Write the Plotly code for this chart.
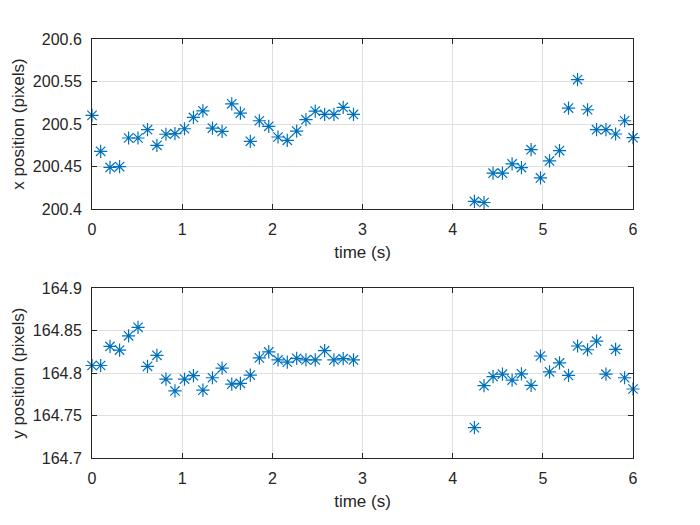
import plotly.graph_objects as go
from plotly.subplots import make_subplots

# time stamps (s)
t1 = [0.0, 0.096, 0.2, 0.306, 0.406, 0.51, 0.616, 0.72, 0.82, 0.92,
      1.026, 1.125, 1.23, 1.336, 1.443, 1.55, 1.646, 1.756, 1.856, 1.96,
      2.063, 2.166, 2.27, 2.373, 2.476, 2.58, 2.683, 2.786, 2.9]
t2 = [4.241, 4.348, 4.448, 4.552, 4.659, 4.763, 4.87, 4.974, 5.074, 5.185,
      5.285, 5.385, 5.496, 5.596, 5.7, 5.807, 5.907, 6.0]

# x position (pixels)
x1 = [200.5102, 200.468, 200.449, 200.450, 200.4836, 200.4836, 200.4934, 200.475, 200.488, 200.4887,
      200.4945, 200.5078, 200.5156, 200.4953, 200.4914, 200.5238, 200.5129, 200.4797, 200.5039, 200.4973,
      200.4848, 200.4809, 200.4918, 200.5051, 200.5152, 200.5113, 200.5113, 200.5195, 200.5113]
x2 = [200.409, 200.4078, 200.4422, 200.4422, 200.4531, 200.4488, 200.4699, 200.4367, 200.4566, 200.4688,
      200.5188, 200.5523, 200.5168, 200.4934, 200.4934, 200.4883, 200.5039, 200.484]

# y position (pixels)
y1 = [164.809, 164.809, 164.8315, 164.8272, 164.844, 164.854, 164.808, 164.821, 164.793, 164.779,
      164.793, 164.797, 164.780, 164.7946, 164.806, 164.787, 164.788, 164.7977, 164.818, 164.825,
      164.8156, 164.813, 164.8175, 164.8156, 164.8156, 164.8265, 164.8156, 164.817, 164.8156]
y2 = [164.7358, 164.7852, 164.796, 164.7988, 164.7918, 164.7992, 164.7856, 164.8202, 164.8016, 164.812,
      164.7973, 164.832, 164.8276, 164.8377, 164.7988, 164.828, 164.7946, 164.7813]

xticks = [0, 1, 2, 3, 4, 5, 6]
xpos_ticks = [200.4, 200.45, 200.5, 200.55, 200.6]
xpos_text = ["200.4", "200.45", "200.5", "200.55", "200.6"]
ypos_ticks = [164.7, 164.75, 164.8, 164.85, 164.9]
ypos_text = ["164.7", "164.75", "164.8", "164.85", "164.9"]

BLUE = "#0072BD"
AX = "#262626"
FONT = "Liberation Sans, Arial, sans-serif"
TICK_SIZE = 16
LABEL_SIZE = 17

fig = make_subplots(rows=2, cols=1, vertical_spacing=0.189)

tx = t1 + [None] + t2
for row, vals in ((1, x1 + [None] + x2), (2, y1 + [None] + y2)):
    fig.add_trace(go.Scatter(
        x=tx, y=vals, mode="markers", cliponaxis=False,
        marker=dict(symbol="asterisk-open", size=11, color=BLUE,
                    line=dict(color=BLUE, width=1.2)),
        showlegend=False), row=row, col=1)

axis_common = dict(showline=True, linecolor=AX, linewidth=1, mirror="ticks",
                   ticks="inside", ticklen=5, tickcolor=AX, tickwidth=1,
                   showgrid=True, gridcolor="#dfdfdf", gridwidth=1,
                   zeroline=False, tickfont=dict(family=FONT, size=TICK_SIZE, color=AX))

for row in (1, 2):
    fig.update_xaxes(range=[0, 6], tickvals=xticks, ticktext=[str(v) for v in xticks],
                     ticklabelstandoff=6,
                     title=dict(text="time (s)", font=dict(family=FONT, size=LABEL_SIZE, color=AX), standoff=8),
                     row=row, col=1, **axis_common)

fig.update_yaxes(range=[200.4, 200.6], tickvals=xpos_ticks, ticktext=xpos_text,
                 ticklabelstandoff=6,
                 title=dict(text="x position (pixels)", font=dict(family=FONT, size=LABEL_SIZE, color=AX), standoff=3),
                 row=1, col=1, **axis_common)
fig.update_yaxes(range=[164.7, 164.9], tickvals=ypos_ticks, ticktext=ypos_text,
                 ticklabelstandoff=6,
                 title=dict(text="y position (pixels)", font=dict(family=FONT, size=LABEL_SIZE, color=AX), standoff=3),
                 row=2, col=1, **axis_common)

fig.update_layout(
    width=700, height=525,
    margin=dict(l=91.5, r=66.5, t=38.5, b=66.7, pad=0),
    paper_bgcolor="white", plot_bgcolor="white",
    font=dict(family=FONT, size=TICK_SIZE, color=AX),
)
fig.update_layout(yaxis=dict(domain=[0.594, 1.0]), yaxis2=dict(domain=[0.0, 0.405]))

fig.write_html("out.html")
